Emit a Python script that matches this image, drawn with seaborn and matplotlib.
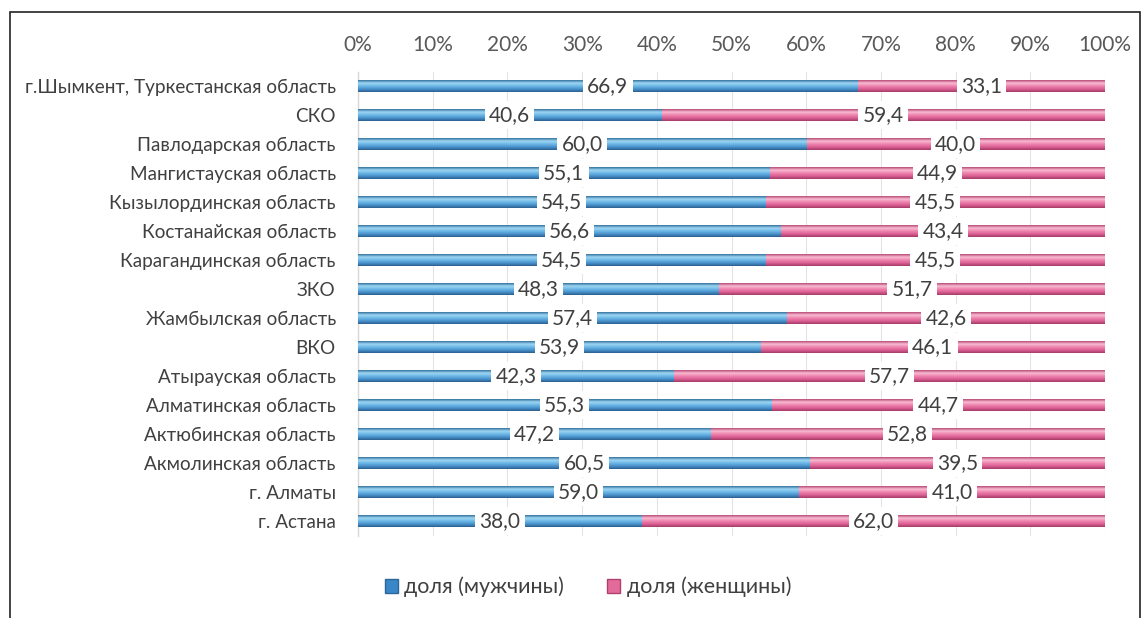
import numpy as np
import pandas as pd
import matplotlib
matplotlib.use("Agg")
import matplotlib.pyplot as plt
import seaborn as sns
from matplotlib.colors import LinearSegmentedColormap
from matplotlib.patches import Patch, Rectangle

regions = ["г.Шымкент, Туркестанская область", "СКО", "Павлодарская область",
           "Мангистауская область", "Кызылординская область", "Костанайская область",
           "Карагандинская область", "ЗКО", "Жамбылская область", "ВКО",
           "Атырауская область", "Алматинская область", "Актюбинская область",
           "Акмолинская область", "г. Алматы", "г. Астана"]
men = [66.9, 40.6, 60.0, 55.1, 54.5, 56.6, 54.5, 48.3, 57.4, 53.9, 42.3, 55.3, 47.2, 60.5, 59.0, 38.0]
women = [33.1, 59.4, 40.0, 44.9, 45.5, 43.4, 45.5, 51.7, 42.6, 46.1, 57.7, 44.7, 52.8, 39.5, 41.0, 62.0]
legend_labels = ["доля (мужчины)", "доля (женщины)"]
xticks = [0, 10, 20, 30, 40, 50, 60, 70, 80, 90, 100]

sns.set_theme(style="white")
plt.rcParams['font.family'] = ['Lato', 'DejaVu Sans']

df = pd.DataFrame({"region": regions, "men": men, "women": women})
df["total"] = df["men"] + df["women"]

fig = plt.figure(figsize=(11.48, 6.18), dpi=100)
ax = fig.add_axes([358/1148, 1-535.5/618, (1105-358)/1148, (535.5-71.5)/618])

sns.barplot(data=df, y="region", x="total", orient="h", color="#e0709c", width=0.4, ax=ax)
sns.barplot(data=df, y="region", x="men", orient="h", color="#3d8bcf", width=0.4, ax=ax)

blue_cmap = LinearSegmentedColormap.from_list("b", ["#33729f", "#9fd6f3", "#6db8e6", "#4891cb", "#2a5f8f"])
pink_cmap = LinearSegmentedColormap.from_list("p", ["#b84a76", "#f9bcd3", "#ee84ae", "#db5f93", "#a43a66"])
grad = np.linspace(0, 1, 64).reshape(-1, 1)
n = len(regions)
patches = list(ax.patches)
for i, p in enumerate(patches):
    cmap = pink_cmap if i < n else blue_cmap
    x0, y0 = p.get_x(), p.get_y()
    w, h = p.get_width(), p.get_height()
    p.set_facecolor("none")
    p.set_edgecolor("none")
    im = ax.imshow(grad, cmap=cmap, aspect="auto", origin="lower",
                   extent=(x0, x0 + w, y0, y0 + h), zorder=2 + (1 if i >= n else 0),
                   interpolation="bilinear")
    im.set_clip_path(p)

ax.set_xlim(0, 100)
ax.set_ylim(n - 0.5, -0.5)

# labels
for i in range(n):
    m, wv = men[i], women[i]
    ax.text(m / 2, i, f"{m:.1f}".replace(".", ","), ha="center", va="center",
            fontsize=15, color="#404040", zorder=5,
            bbox=dict(boxstyle="square,pad=0.2", fc="white", ec="none"))
    ax.text(m + wv / 2, i, f"{wv:.1f}".replace(".", ","), ha="center", va="center",
            fontsize=15, color="#404040", zorder=5,
            bbox=dict(boxstyle="square,pad=0.2", fc="white", ec="none"))

ax.xaxis.tick_top()
ax.set_xticks(xticks)
ax.set_xticklabels([f"{t}%" for t in xticks], fontsize=15, color="#595959")
ax.tick_params(axis="x", length=0, pad=12)
ax.tick_params(axis="y", length=0, pad=16, labelsize=13.6, labelcolor="#404040")
ax.set_xlabel("")
ax.set_ylabel("")
ax.grid(axis="x", color="#e4e4e4", linewidth=0.8, zorder=0)
ax.set_axisbelow(True)
for s in ["top", "right", "bottom"]:
    ax.spines[s].set_visible(False)
ax.spines["left"].set_color("#d9d9d9")
ax.spines["left"].set_linewidth(1.0)

handles = [Patch(facecolor="#3a87c8", edgecolor="#2c659a"),
           Patch(facecolor="#e36b9a", edgecolor="#b04070")]
fig.legend(handles, legend_labels, loc="center", bbox_to_anchor=(588/1148, 1-587/618),
           ncol=2, frameon=False, fontsize=15.5, handlelength=0.6, handleheight=0.6,
           handletextpad=0.3, columnspacing=2.0, labelcolor="#404040")

fig.add_artist(Rectangle((10/1148, -0.1), (1140-10)/1148, 1.1 - 12/618,
                         transform=fig.transFigure, fill=False, ec="#222222", lw=1.2))

fig.savefig("out.png", dpi=100)
